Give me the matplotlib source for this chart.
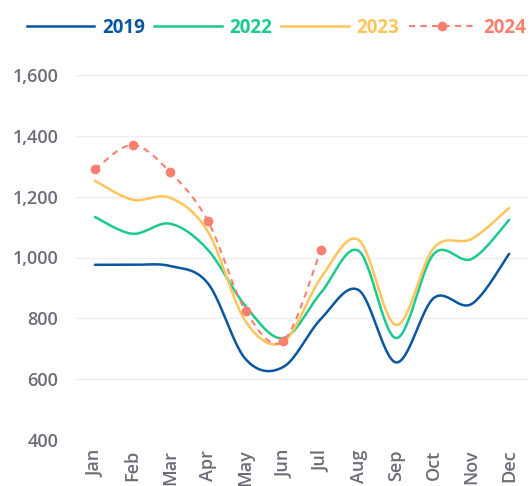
import numpy as np
import matplotlib
matplotlib.use("Agg")
import matplotlib.pyplot as plt
from matplotlib.lines import Line2D

months = ["Jan", "Feb", "Mar", "Apr", "May", "Jun", "Jul", "Aug", "Sep", "Oct", "Nov", "Dec"]
y2019 = [976, 976, 972, 915, 666, 640, 798, 893, 655, 867, 847, 1012]
y2022 = [1133, 1078, 1111, 1025, 840, 735, 884, 1022, 735, 1012, 995, 1124]
y2023 = [1252, 1190, 1196, 1085, 790, 722, 933, 1058, 778, 1032, 1061, 1163]
y2024 = [1290, 1370, 1280, 1120, 825, 725, 1025]

colors = {"2019": "#0B579F", "2022": "#1CC98F", "2023": "#FEC55A", "2024": "#F9806E"}
tick_color = "#6E6B78"

plt.rcParams['font.family'] = ['Open Sans', 'DejaVu Sans']


def smooth(x, y, n=30, tension=0.5):
    x = np.asarray(x, float)
    y = np.asarray(y, float)
    xs, ys = [], []
    m = len(x)
    for i in range(m - 1):
        p0 = (x[i - 1], y[i - 1]) if i > 0 else (x[i], y[i])
        p1 = (x[i], y[i])
        p2 = (x[i + 1], y[i + 1])
        p3 = (x[i + 2], y[i + 2]) if i + 2 < m else (x[i + 1], y[i + 1])
        t = np.linspace(0, 1, n, endpoint=(i == m - 2))
        for k in range(2):
            a, b, c, d = p0[k], p1[k], p2[k], p3[k]
            m1 = tension * (c - a)
            m2 = tension * (d - b)
            h00 = 2 * t**3 - 3 * t**2 + 1
            h10 = t**3 - 2 * t**2 + t
            h01 = -2 * t**3 + 3 * t**2
            h11 = t**3 - t**2
            v = h00 * b + h10 * m1 + h01 * c + h11 * m2
            (xs if k == 0 else ys).append(v)
    return np.concatenate(xs), np.concatenate(ys)


fig = plt.figure(figsize=(5.31, 4.86), dpi=100)
ax = fig.add_axes([75 / 531, 46 / 486, 453 / 531, 365 / 486])

x = np.arange(len(months))
for name, data in [("2019", y2019), ("2022", y2022), ("2023", y2023)]:
    sx, sy = smooth(x[:len(data)], data)
    ax.plot(sx, sy, color=colors[name], lw=1.8, solid_capstyle='round', zorder=3)

sx, sy = smooth(x[:len(y2024)], y2024)
ax.plot(sx, sy, color=colors["2024"], lw=1.5, ls=(0, (3, 2.5)), zorder=4)
ax.plot(x[:len(y2024)], y2024, 'o', color=colors["2024"], ms=6, zorder=5)

ax.set_xlim(-0.53, 11.5)
ax.set_ylim(400, 1600)
ax.set_yticks(range(400, 1601, 200))
ax.set_yticklabels([f"{v:,}" for v in range(400, 1601, 200)])
ax.set_xticks(x)
ax.set_xticklabels(months, rotation=90)
ax.grid(axis='y', color='#EFEFEF', lw=1)
ax.set_axisbelow(True)
for s in ax.spines.values():
    s.set_visible(False)
ax.tick_params(axis='both', length=0, colors=tick_color, labelsize=13)
ax.tick_params(axis='y', pad=12)
ax.tick_params(axis='x', pad=7)
for lab in ax.get_xticklabels() + ax.get_yticklabels():
    lab.set_fontweight('semibold')

handles = [
    Line2D([], [], color=colors["2019"], lw=1.8),
    Line2D([], [], color=colors["2022"], lw=1.8),
    Line2D([], [], color=colors["2023"], lw=1.8),
    Line2D([], [], color=colors["2024"], lw=1.5, ls=(0, (3, 2.5)), marker='o', ms=6),
]
leg = fig.legend(handles, ["2019", "2022", "2023", "2024"], loc='center', bbox_to_anchor=(0.521, 0.943),
                 ncol=4, frameon=False, handlelength=3.6, handletextpad=0.4, columnspacing=0.5,
                 numpoints=1, prop={'size': 13.5, 'weight': 'bold'})
for t, n in zip(leg.get_texts(), ["2019", "2022", "2023", "2024"]):
    t.set_color(colors[n])

fig.savefig("out.png", dpi=100)
